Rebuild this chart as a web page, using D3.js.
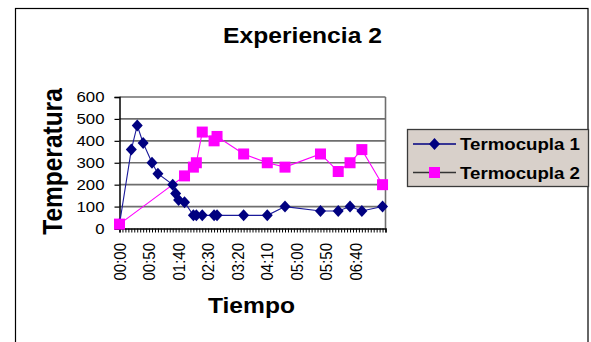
<!DOCTYPE html>
<html>
<head>
<meta charset="utf-8">
<script src="https://cdn.jsdelivr.net/npm/d3@7/dist/d3.min.js"></script>
<style>
  html, body { margin: 0; padding: 0; background: #fff; }
  svg { display: block; font-family: Arial, "Liberation Sans", sans-serif; }
</style>
</head>
<body>
<svg id="chart" width="591" height="342"></svg>
<script>
// ---- data ----
const times = ["00:00","00:20","00:30","00:40","00:55","01:05","01:30","01:35","01:40","01:50",
               "02:05","02:10","02:20","02:40","02:45","03:30","04:10","04:40","05:40","06:10",
               "06:30","06:50","07:25"];
const termocupla1 = [20,360,470,390,300,250,200,160,130,120,60,60,60,60,60,60,60,100,80,80,100,80,100];
const termocupla2 = [20,null,null,null,null,null,null,null,null,240,280,300,440,400,420,340,300,280,340,260,300,360,200];
const seriesNames = ["Termocupla 1","Termocupla 2"];
const xTickLabels = ["00:00","00:50","01:40","02:30","03:20","04:10","05:00","05:50","06:40"];
const yTicks = [0,100,200,300,400,500,600];

const toSec = s => { const [m, sec] = s.split(":").map(Number); return m * 60 + sec; };
const SX = 1.12; // horizontal stretch of text seen in the reference

const svg = d3.select("#chart");

// outer frame
svg.append("rect").attr("x", 15.5).attr("y", 8.5).attr("width", 572.5).attr("height", 345)
  .attr("fill", "#fff").attr("stroke", "#000").attr("stroke-width", 1.2);

const x = d3.scaleLinear().domain([0, 450]).range([119.5, 385.5]);
const y = d3.scaleLinear().domain([0, 600]).range([228.5, 97]);

// gridlines
svg.append("g").selectAll("line").data(yTicks.filter(d => d > 0)).join("line")
  .attr("x1", x(0)).attr("x2", x(450))
  .attr("y1", d => y(d)).attr("y2", d => y(d))
  .attr("stroke", "#6e6e6e").attr("stroke-width", 1.6);

// right border of plot
svg.append("line").attr("x1", x(450)).attr("x2", x(450)).attr("y1", y(600)).attr("y2", y(0))
  .attr("stroke", "#6e6e6e").attr("stroke-width", 1.6);

// y axis
const yAxis = d3.axisLeft(y).tickValues(yTicks).tickSize(5).tickPadding(9);
const gy = svg.append("g").attr("transform", `translate(${x(0)},0)`).call(yAxis);
gy.select(".domain").attr("stroke", "#000").attr("stroke-width", 1.5);
gy.selectAll(".tick line").attr("stroke", "#000").attr("stroke-width", 1.2);
gy.selectAll(".tick text").attr("font-size", 15).attr("fill", "#000")
  .attr("font-family", "Arial, 'Liberation Sans', sans-serif")
  .attr("x", 0).attr("transform", `translate(-15,0) scale(${SX},1)`);

// x axis (minor ticks every 5 s, labels every 50 s)
const minor = d3.range(0, 451, 5);
const xAxis = d3.axisBottom(x).tickValues(minor).tickSize(4).tickFormat("");
const gx = svg.append("g").attr("transform", `translate(0,${y(0)})`).call(xAxis);
gx.select(".domain").attr("stroke", "#000").attr("stroke-width", 1.5);
gx.selectAll(".tick line").attr("stroke", "#000").attr("stroke-width", 1);

svg.append("g").selectAll("text").data(xTickLabels).join("text")
  .attr("transform", d => `translate(${x(toSec(d))},243) rotate(-90) scale(1,${SX})`)
  .attr("text-anchor", "end").attr("dy", "0.36em")
  .attr("font-size", 15).attr("fill", "#000")
  .text(d => d);

// series
const pts1 = times.map((t, i) => ({ t: toSec(t), v: termocupla1[i] })).filter(d => d.v != null);
const pts2 = times.map((t, i) => ({ t: toSec(t), v: termocupla2[i] })).filter(d => d.v != null);
const line = d3.line().x(d => x(d.t)).y(d => y(d.v));

svg.append("path").datum(pts1).attr("d", line).attr("fill", "none")
  .attr("stroke", "#1a1a9a").attr("stroke-width", 1.1);
svg.append("path").datum(pts2).attr("d", line).attr("fill", "none")
  .attr("stroke", "#ff00ff").attr("stroke-width", 1.1);

const diamond = "M0,-6L5.5,0L0,6L-5.5,0Z";
svg.append("g").selectAll("path").data(pts1).join("path")
  .attr("transform", d => `translate(${x(d.t)},${y(d.v)})`)
  .attr("d", diamond).attr("fill", "#000080");

svg.append("g").selectAll("rect").data(pts2).join("rect")
  .attr("x", d => x(d.t) - 5.5).attr("y", d => y(d.v) - 5.5)
  .attr("width", 11).attr("height", 11).attr("fill", "#ff00ff");

// titles
svg.append("text").attr("transform", `translate(302.5,43) scale(${SX},1)`).attr("text-anchor", "middle")
  .attr("font-size", 22).attr("font-weight", "bold").text("Experiencia 2");
svg.append("text").attr("transform", `translate(251.5,313) scale(${SX},1)`).attr("text-anchor", "middle")
  .attr("font-size", 22).attr("font-weight", "bold").text("Tiempo");
svg.append("text").attr("transform", `translate(62,161.5) rotate(-90) scale(1,${SX})`).attr("text-anchor", "middle")
  .attr("font-size", 24.5).attr("font-weight", "bold").text("Temperatura");

// legend
const lg = svg.append("g");
lg.append("rect").attr("x", 407.5).attr("y", 129.5).attr("width", 181).attr("height", 57)
  .attr("fill", "#d8d0ca").attr("stroke", "#3a3a3a").attr("stroke-width", 1.3);
const legendColors = [{ line: "#000080", mark: "#000080", shape: "diamond" },
                      { line: "#333333", mark: "#ff00ff", shape: "square" }];
seriesNames.forEach((name, i) => {
  const cy = 144 + i * 28.5;
  lg.append("line").attr("x1", 413).attr("x2", 456).attr("y1", cy).attr("y2", cy)
    .attr("stroke", legendColors[i].line).attr("stroke-width", 1.4);
  if (legendColors[i].shape === "diamond") {
    lg.append("path").attr("transform", `translate(434.5,${cy})`).attr("d", diamond)
      .attr("fill", legendColors[i].mark);
  } else {
    lg.append("rect").attr("x", 429).attr("y", cy - 5.5).attr("width", 11).attr("height", 11)
      .attr("fill", legendColors[i].mark);
  }
  lg.append("text").attr("transform", `translate(460,${cy})`).attr("dy", "0.36em")
    .attr("font-size", 17).attr("font-weight", "bold").attr("textLength", 120)
    .attr("lengthAdjust", "spacingAndGlyphs").text(name);
});
</script>
</body>
</html>
